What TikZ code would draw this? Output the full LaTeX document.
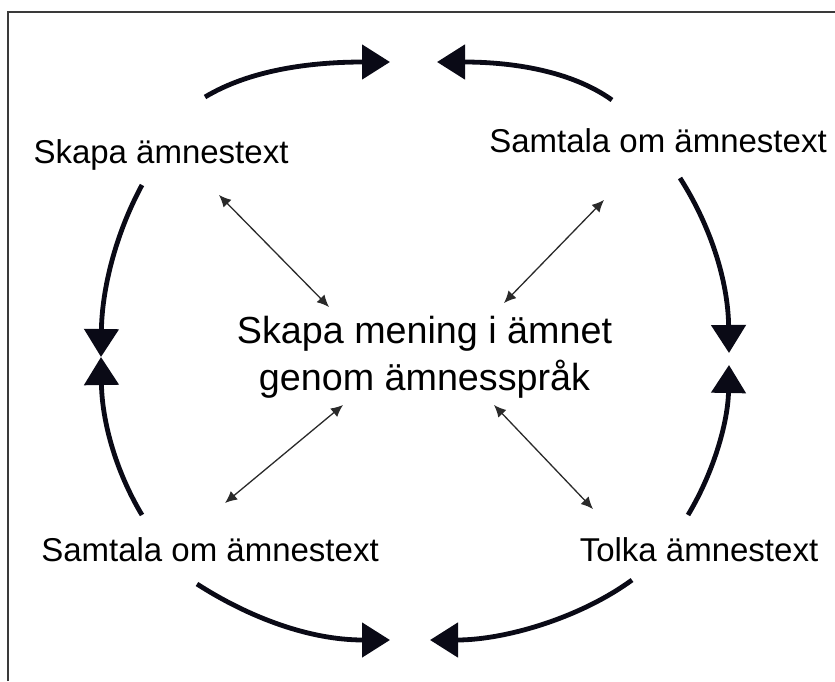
\documentclass[tikz,border=0pt]{standalone}
\usepackage{fontspec}
\setmainfont{Liberation Sans}
\usetikzlibrary{arrows.meta}
\definecolor{cycc}{HTML}{0A0A16}
\definecolor{linkc}{HTML}{2A2A2A}
\definecolor{framec}{HTML}{3A3A3A}
\begin{document}
\begin{tikzpicture}[x=1pt,y=-1pt,
  cyc/.style={line width=4.8pt, draw=cycc, -{Triangle[length=28pt,width=34pt]}},
  link/.style={line width=1.3pt, draw=linkc, {Latex[length=12pt,width=11pt]}-{Latex[length=12pt,width=11pt]}},
  lbl/.style={font=\fontsize{33}{38}\selectfont, inner sep=0pt, anchor=base, text=black},
  ctr/.style={font=\fontsize{37.7}{47}\selectfont, align=center, inner sep=0pt, text=black}]
\useasboundingbox (0,0) rectangle (835,681);
\draw[line width=2pt, draw=framec] (8,681) -- (8,11.5) -- (835,11.5);

% labels
\node[lbl] (skapa) at (161,163) {Skapa ämnestext};
\node[lbl] (samtalaTR) at (658,152) {Samtala om ämnestext};
\node[lbl] (samtalaBL) at (210,561) {Samtala om ämnestext};
\node[lbl] (tolka) at (699,561) {Tolka ämnestext};
\node[ctr] (center) at (424.5,357) {Skapa mening i ämnet\\genom ämnesspråk};

% cycle arc end points
\coordinate (tlS) at (205,97);
\coordinate (tlE) at (390,62);
\coordinate (trS) at (612,100);
\coordinate (trE) at (437,62);
\coordinate (luS) at (142,185);
\coordinate (luE) at (101,357);
\coordinate (llS) at (142,515);
\coordinate (llE) at (101,357);
\coordinate (ruS) at (680,178);
\coordinate (ruE) at (729,353);
\coordinate (rlS) at (688,515);
\coordinate (rlE) at (729,365);
\coordinate (blS) at (197,584);
\coordinate (blE) at (390,640);
\coordinate (brS) at (632,580);
\coordinate (brE) at (430,640);

\draw[cyc] (tlS) .. controls (250,70) and (310,62) .. (tlE);
\draw[cyc] (trS) .. controls (570,70) and (510,62) .. (trE);
\draw[cyc] (luS) .. controls (115,235) and (102,290) .. (luE);
\draw[cyc] (llS) .. controls (115,470) and (102,420) .. (llE);
\draw[cyc] (ruS) .. controls (710,225) and (728,280) .. (ruE);
\draw[cyc] (rlS) .. controls (715,470) and (728,420) .. (rlE);
\draw[cyc] (blS) .. controls (250,618) and (310,640) .. (blE);
\draw[cyc] (brS) .. controls (580,618) and (505,640) .. (brE);

% links to centre
\coordinate (aTL) at (219,195);
\coordinate (bTL) at (329,307);
\coordinate (aTR) at (604,200);
\coordinate (bTR) at (504,303);
\coordinate (aBL) at (343,405);
\coordinate (bBL) at (225,503);
\coordinate (aBR) at (494,405);
\coordinate (bBR) at (593,509);
\draw[link] (aTL) -- (bTL);
\draw[link] (aTR) -- (bTR);
\draw[link] (aBL) -- (bBL);
\draw[link] (aBR) -- (bBR);
\end{tikzpicture}
\end{document}
